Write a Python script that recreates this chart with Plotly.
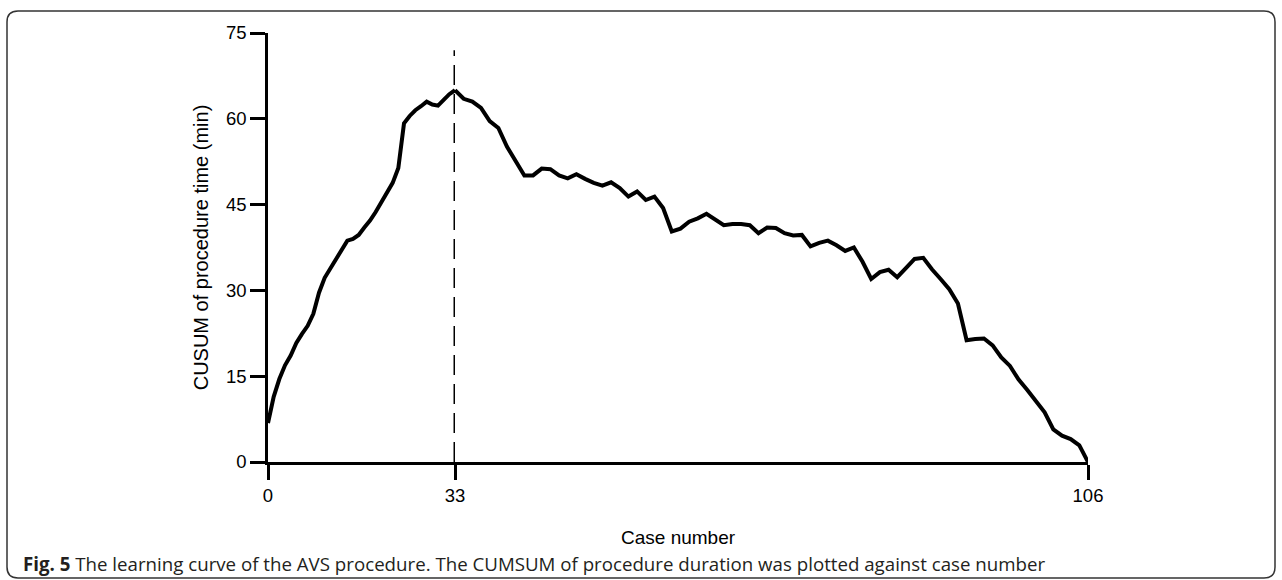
import plotly.graph_objects as go

# ---- data ----
case_numbers = list(range(0, 107))
cusum_minutes = [
    6.8, 11.4, 14.5, 16.9, 18.6, 20.8, 22.4, 23.8, 25.9, 29.6,
    32.2, 33.9, 35.4, 37.0, 38.7, 39.0, 39.7, 41.0, 42.2, 43.7,
    45.3, 46.9, 48.8, 51.4, 59.2, 60.5, 61.5, 62.2, 63.0, 62.5,
    62.3, 63.3, 64.3, 65.0,
    63.5, 63.0, 61.9, 59.6, 58.4, 55.1, 52.5, 50.1, 50.1, 51.3,
    51.2, 50.1, 49.6, 50.3, 49.5, 48.8, 48.3, 48.9, 47.9, 46.4,
    47.3, 45.8, 46.4, 44.4, 40.3, 40.8, 42.0, 42.6, 43.4, 42.4,
    41.4, 41.6, 41.6, 41.4, 40.0, 41.0, 40.9, 40.0, 39.6, 39.7,
    37.7, 38.3, 38.7, 37.9, 36.9, 37.5, 35.0, 32.0, 33.2, 33.6,
    32.3, 33.9, 35.5, 35.7, 33.7, 32.0, 30.2, 27.7, 21.3, 21.5,
    21.6, 20.4, 18.3, 16.8, 14.4, 12.6, 10.6, 8.7, 5.7, 4.6,
    4.0, 2.9, 0.0,
]
x_tick_labels = [0, 33, 106]
y_tick_values = [0, 15, 30, 45, 60, 75]
peak_case = 33
y_max = 75

# ---- geometry (canvas pixels) ----
W, H = 1282, 580
x0_px, xpk_px, x1_px = 268, 455, 1088
y0_px, ytop_px = 462, 33

def px(x):
    return x / W

def py(y):
    return 1 - y / H

i_split = case_numbers.index(peak_case)
line_style = dict(color="black", width=4)

fig = go.Figure()
fig.add_trace(go.Scatter(
    x=case_numbers[: i_split + 1], y=cusum_minutes[: i_split + 1],
    mode="lines", line=line_style, xaxis="x", yaxis="y", showlegend=False,
))
fig.add_trace(go.Scatter(
    x=case_numbers[i_split:], y=cusum_minutes[i_split:],
    mode="lines", line=line_style, xaxis="x2", yaxis="y", showlegend=False,
))

tick_font = dict(family="Liberation Sans, Arial, sans-serif", size=18.5, color="black")
axis_common = dict(
    showline=True, linecolor="black", linewidth=2.5,
    ticks="outside", ticklen=15, tickwidth=2.5, tickcolor="black",
    showgrid=False, zeroline=False, tickfont=tick_font, automargin=False,
)

fig.update_layout(
    width=W, height=H,
    margin=dict(l=0, r=0, t=0, b=0, pad=0),
    paper_bgcolor="white", plot_bgcolor="white",
    xaxis=dict(
        domain=[px(x0_px), px(xpk_px)], range=[0, peak_case],
        tickmode="array", tickvals=x_tick_labels[:2],
        ticktext=[str(v) for v in x_tick_labels[:2]],
        anchor="y", **axis_common,
    ),
    xaxis2=dict(
        domain=[px(xpk_px), px(x1_px)], range=[peak_case, x_tick_labels[-1]],
        tickmode="array", tickvals=x_tick_labels[2:],
        ticktext=[str(v) for v in x_tick_labels[2:]],
        anchor="y", **axis_common,
    ),
    yaxis=dict(
        domain=[py(y0_px), py(ytop_px)], range=[0, y_max],
        tickmode="array", tickvals=y_tick_values,
        ticktext=[str(v) for v in y_tick_values],
        anchor="x",
        title=dict(text="CUSUM of procedure time (min)",
                   font=dict(family="Liberation Sans, Arial, sans-serif", size=20, color="black"),
                   standoff=12),
        **axis_common,
    ),
)

# dashed reference line at the peak case
fig.add_shape(type="line", xref="x", yref="y", x0=peak_case, x1=peak_case,
              y0=0, y1=72, line=dict(color="black", width=3, dash="20px,9px"))

# x axis title
fig.add_annotation(text="Case number", xref="paper", yref="paper",
                   x=px((x0_px + x1_px) / 2), y=py(537), showarrow=False,
                   xanchor="center", yanchor="middle",
                   font=dict(family="Liberation Sans, Arial, sans-serif", size=19, color="black"))

# caption
fig.add_annotation(
    text="<b>Fig. 5</b> The learning curve of the AVS procedure. The CUMSUM of procedure duration was plotted against case number",
    xref="paper", yref="paper", x=px(21), y=py(563), showarrow=False,
    xanchor="left", yanchor="middle",
    font=dict(family="Open Sans, Noto Sans, sans-serif", size=18.7, color="#231f20"))

# rounded frame
L, R, T, B, r = 7, 1275, 11, 578, 11
path = (f"M {px(L + r)},{py(T)} L {px(R - r)},{py(T)} Q {px(R)},{py(T)} {px(R)},{py(T + r)} "
        f"L {px(R)},{py(B - r)} Q {px(R)},{py(B)} {px(R - r)},{py(B)} "
        f"L {px(L + r)},{py(B)} Q {px(L)},{py(B)} {px(L)},{py(B - r)} "
        f"L {px(L)},{py(T + r)} Q {px(L)},{py(T)} {px(L + r)},{py(T)} Z")
fig.add_shape(type="path", xref="paper", yref="paper", path=path,
              line=dict(color="#333333", width=1.5), layer="below")

fig.write_html(
    "out.html",
    config={"displayModeBar": False},
    post_script="document.body.style.margin='0';document.body.style.overflow='hidden';",
)
